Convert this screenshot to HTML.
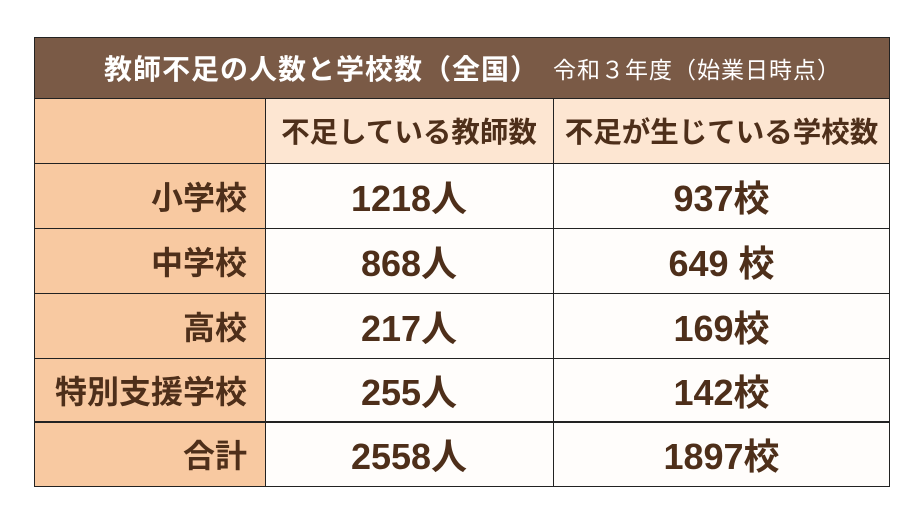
<!DOCTYPE html>
<html><head><meta charset="utf-8"><style>
body{margin:0;width:924px;height:520px;background:#fff;position:relative;overflow:hidden;font-family:"Liberation Sans","Noto Sans CJK JP",sans-serif;}
.c{position:absolute;box-sizing:border-box;display:flex;align-items:center;color:#4e2f1a;font-weight:bold;}
.t{background:#7a5a46;color:#fff;}
.l{background:#f8c9a1;justify-content:flex-end;padding-right:18px;font-size:32px;}
.h{background:#fde6d2;justify-content:center;font-size:28.5px;}
.d{background:#fffdfb;justify-content:center;font-size:36px;}
.hl{position:absolute;background:#222;height:1px;left:34px;width:856px;}
.vl{position:absolute;background:#222;width:1px;}
</style></head><body>
<div class="c t" style="left:34px;top:37px;width:856px;height:61px;padding-left:70px;font-size:28px;letter-spacing:1px;">教師不足の人数と学校数（全国）<span style="font-weight:normal;font-size:23px;margin-left:14px;letter-spacing:1px;">令和３年度（始業日時点）</span></div>
<div class="c l" style="left:34px;top:98px;width:231px;height:65px;"></div>
<div class="c h" style="left:265px;top:98px;width:288px;height:65px;">不足している教師数</div>
<div class="c h" style="left:553px;top:98px;width:337px;height:65px;">不足が生じている学校数</div>

<div class="c l" style="left:34px;top:163px;width:231px;height:65px;">小学校</div>
<div class="c d" style="left:265px;top:163px;width:288px;height:65px;">1218人</div>
<div class="c d" style="left:553px;top:163px;width:337px;height:65px;">937校</div>

<div class="c l" style="left:34px;top:228px;width:231px;height:65px;">中学校</div>
<div class="c d" style="left:265px;top:228px;width:288px;height:65px;">868人</div>
<div class="c d" style="left:553px;top:228px;width:337px;height:65px;">649 校</div>

<div class="c l" style="left:34px;top:293px;width:231px;height:65px;">高校</div>
<div class="c d" style="left:265px;top:293px;width:288px;height:65px;">217人</div>
<div class="c d" style="left:553px;top:293px;width:337px;height:65px;">169校</div>

<div class="c l" style="left:34px;top:358px;width:231px;height:64px;">特別支援学校</div>
<div class="c d" style="left:265px;top:358px;width:288px;height:64px;">255人</div>
<div class="c d" style="left:553px;top:358px;width:337px;height:64px;">142校</div>

<div class="c l" style="left:34px;top:422px;width:231px;height:64px;">合計</div>
<div class="c d" style="left:265px;top:422px;width:288px;height:64px;">2558人</div>
<div class="c d" style="left:553px;top:422px;width:337px;height:64px;">1897校</div>

<div class="hl" style="top:37px"></div>
<div class="hl" style="top:98px"></div>
<div class="hl" style="top:163px"></div>
<div class="hl" style="top:228px"></div>
<div class="hl" style="top:293px"></div>
<div class="hl" style="top:358px"></div>
<div class="hl" style="top:421px;height:2px"></div>
<div class="hl" style="top:486px"></div>
<div class="vl" style="left:34px;top:37px;height:450px"></div>
<div class="vl" style="left:889px;top:37px;height:450px"></div>
<div class="vl" style="left:265px;top:98px;height:389px"></div>
<div class="vl" style="left:553px;top:98px;height:389px"></div>
</body></html>
